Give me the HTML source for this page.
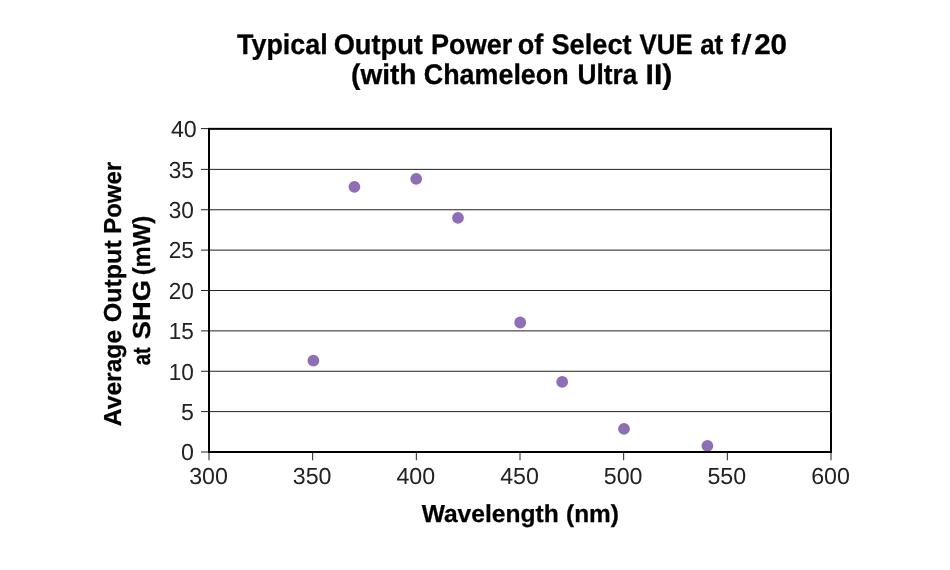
<!DOCTYPE html>
<html lang="en">
<head>
<meta charset="utf-8">
<title>Typical Output Power of Select VUE at f/20</title>
<style>
html,body{margin:0;padding:0;background:#fff;}
body{width:950px;height:570px;overflow:hidden;}
svg{display:block;}
text{font-family:"Liberation Sans",Arial,Helvetica,sans-serif;fill:#000;text-rendering:geometricPrecision;}
.t{font-weight:bold;font-size:28.3px;stroke:#000;stroke-width:0.3px;}
.a{font-weight:bold;font-size:24.6px;stroke:#000;stroke-width:0.25px;}
.n{font-size:23.2px;fill:#222;}
</style>
</head>
<body>
<svg width="950" height="570" viewBox="0 0 950 570">
<rect x="0" y="0" width="950" height="570" fill="#ffffff"/>
<text class="t" y="53.7"><tspan x="236.98" textLength="90.76" lengthAdjust="spacingAndGlyphs">Typical</tspan> <tspan x="333.66" textLength="89.30" lengthAdjust="spacingAndGlyphs">Output</tspan> <tspan x="431.09" textLength="81.16" lengthAdjust="spacingAndGlyphs">Power</tspan> <tspan x="517.80" textLength="25.58" lengthAdjust="spacingAndGlyphs">of</tspan> <tspan x="551.43" textLength="80.23" lengthAdjust="spacingAndGlyphs">Select</tspan> <tspan x="639.62" textLength="52.96" lengthAdjust="spacingAndGlyphs">VUE</tspan> <tspan x="700.17" textLength="23.02" lengthAdjust="spacingAndGlyphs">at</tspan> <tspan x="730.74" textLength="9.05" lengthAdjust="spacingAndGlyphs">f</tspan><tspan x="741.50" rotate="6.5">/</tspan><tspan x="754.16" textLength="32.89" lengthAdjust="spacingAndGlyphs">20</tspan></text>
<text class="t" y="83.6"><tspan x="351.05" textLength="65.42" lengthAdjust="spacingAndGlyphs">(with</tspan> <tspan x="423.77" textLength="144.89" lengthAdjust="spacingAndGlyphs">Chameleon</tspan> <tspan x="577.47" textLength="59.90" lengthAdjust="spacingAndGlyphs">Ultra</tspan> <tspan x="645.59" textLength="26.83" lengthAdjust="spacingAndGlyphs">II)</tspan></text>
<line x1="209.0" y1="411.62" x2="831.0" y2="411.62" stroke="#222" stroke-width="1"/>
<line x1="209.0" y1="371.25" x2="831.0" y2="371.25" stroke="#222" stroke-width="1"/>
<line x1="209.0" y1="330.88" x2="831.0" y2="330.88" stroke="#222" stroke-width="1"/>
<line x1="209.0" y1="290.50" x2="831.0" y2="290.50" stroke="#222" stroke-width="1"/>
<line x1="209.0" y1="250.12" x2="831.0" y2="250.12" stroke="#222" stroke-width="1"/>
<line x1="209.0" y1="209.75" x2="831.0" y2="209.75" stroke="#222" stroke-width="1"/>
<line x1="209.0" y1="169.38" x2="831.0" y2="169.38" stroke="#222" stroke-width="1"/>
<clipPath id="pc"><rect x="209.0" y="129.0" width="622.0" height="323.0"/></clipPath>
<g clip-path="url(#pc)">
<circle cx="313.4" cy="360.7" r="5.9" fill="#8e6fb5"/>
<circle cx="354.4" cy="186.8" r="5.9" fill="#8e6fb5"/>
<circle cx="416.2" cy="178.9" r="5.9" fill="#8e6fb5"/>
<circle cx="458.0" cy="217.9" r="5.9" fill="#8e6fb5"/>
<circle cx="520.2" cy="322.5" r="5.9" fill="#8e6fb5"/>
<circle cx="562.2" cy="381.9" r="5.9" fill="#8e6fb5"/>
<circle cx="624.0" cy="428.9" r="5.9" fill="#8e6fb5"/>
<circle cx="707.4" cy="445.85" r="5.9" fill="#8e6fb5"/>
</g>
<rect x="209.0" y="128.85" width="622.0" height="323.15" fill="none" stroke="#000" stroke-width="2"/>
<line x1="201" y1="452.00" x2="208" y2="452.00" stroke="#222" stroke-width="1"/>
<line x1="201" y1="411.62" x2="208" y2="411.62" stroke="#222" stroke-width="1"/>
<line x1="201" y1="371.25" x2="208" y2="371.25" stroke="#222" stroke-width="1"/>
<line x1="201" y1="330.88" x2="208" y2="330.88" stroke="#222" stroke-width="1"/>
<line x1="201" y1="290.50" x2="208" y2="290.50" stroke="#222" stroke-width="1"/>
<line x1="201" y1="250.12" x2="208" y2="250.12" stroke="#222" stroke-width="1"/>
<line x1="201" y1="209.75" x2="208" y2="209.75" stroke="#222" stroke-width="1"/>
<line x1="201" y1="169.38" x2="208" y2="169.38" stroke="#222" stroke-width="1"/>
<line x1="201" y1="128.60" x2="208" y2="128.60" stroke="#222" stroke-width="1"/>
<line x1="209.00" y1="453" x2="209.00" y2="460.3" stroke="#222" stroke-width="1"/>
<line x1="312.67" y1="453" x2="312.67" y2="460.3" stroke="#222" stroke-width="1"/>
<line x1="416.33" y1="453" x2="416.33" y2="460.3" stroke="#222" stroke-width="1"/>
<line x1="520.00" y1="453" x2="520.00" y2="460.3" stroke="#222" stroke-width="1"/>
<line x1="623.67" y1="453" x2="623.67" y2="460.3" stroke="#222" stroke-width="1"/>
<line x1="727.33" y1="453" x2="727.33" y2="460.3" stroke="#222" stroke-width="1"/>
<line x1="831.00" y1="453" x2="831.00" y2="460.3" stroke="#222" stroke-width="1"/>
<text class="n" x="180.90" y="460.35" textLength="12.90" lengthAdjust="spacingAndGlyphs">0</text>
<text class="n" x="180.90" y="419.98" textLength="12.90" lengthAdjust="spacingAndGlyphs">5</text>
<text class="n" x="168.64" y="379.60" textLength="25.16" lengthAdjust="spacingAndGlyphs">10</text>
<text class="n" x="168.64" y="339.23" textLength="25.16" lengthAdjust="spacingAndGlyphs">15</text>
<text class="n" x="168.64" y="298.85" textLength="25.16" lengthAdjust="spacingAndGlyphs">20</text>
<text class="n" x="168.64" y="258.48" textLength="25.16" lengthAdjust="spacingAndGlyphs">25</text>
<text class="n" x="168.64" y="218.10" textLength="25.16" lengthAdjust="spacingAndGlyphs">30</text>
<text class="n" x="168.64" y="177.72" textLength="25.16" lengthAdjust="spacingAndGlyphs">35</text>
<text class="n" x="170.89" y="137.35" textLength="25.81" lengthAdjust="spacingAndGlyphs">40</text>
<text class="n" x="189.15" y="484.1" textLength="38.71" lengthAdjust="spacingAndGlyphs">300</text>
<text class="n" x="292.81" y="484.1" textLength="38.71" lengthAdjust="spacingAndGlyphs">350</text>
<text class="n" x="396.48" y="484.1" textLength="38.71" lengthAdjust="spacingAndGlyphs">400</text>
<text class="n" x="500.15" y="484.1" textLength="38.71" lengthAdjust="spacingAndGlyphs">450</text>
<text class="n" x="603.81" y="484.1" textLength="38.71" lengthAdjust="spacingAndGlyphs">500</text>
<text class="n" x="707.48" y="484.1" textLength="38.71" lengthAdjust="spacingAndGlyphs">550</text>
<text class="n" x="811.15" y="484.1" textLength="38.71" lengthAdjust="spacingAndGlyphs">600</text>
<text class="a" y="521.8"><tspan x="421.65" textLength="137.07" lengthAdjust="spacingAndGlyphs">Wavelength</tspan> <tspan x="566.03" textLength="52.84" lengthAdjust="spacingAndGlyphs">(nm)</tspan></text>
<text class="a" y="0" transform="translate(121.1 430) rotate(-90)"><tspan x="3.83" textLength="96.27" lengthAdjust="spacingAndGlyphs">Average</tspan> <tspan x="107.85" textLength="81.88" lengthAdjust="spacingAndGlyphs">Output</tspan> <tspan x="196.29" textLength="71.82" lengthAdjust="spacingAndGlyphs">Power</tspan></text>
<text class="a" y="0" transform="translate(150.3 430) rotate(-90)"><tspan x="64.74" textLength="17.99" lengthAdjust="spacingAndGlyphs">at</tspan> <tspan x="90.83" textLength="59.32" lengthAdjust="spacingAndGlyphs">SHG</tspan> <tspan x="154.66" textLength="59.67" lengthAdjust="spacingAndGlyphs">(mW)</tspan></text>
</svg>
</body>
</html>
